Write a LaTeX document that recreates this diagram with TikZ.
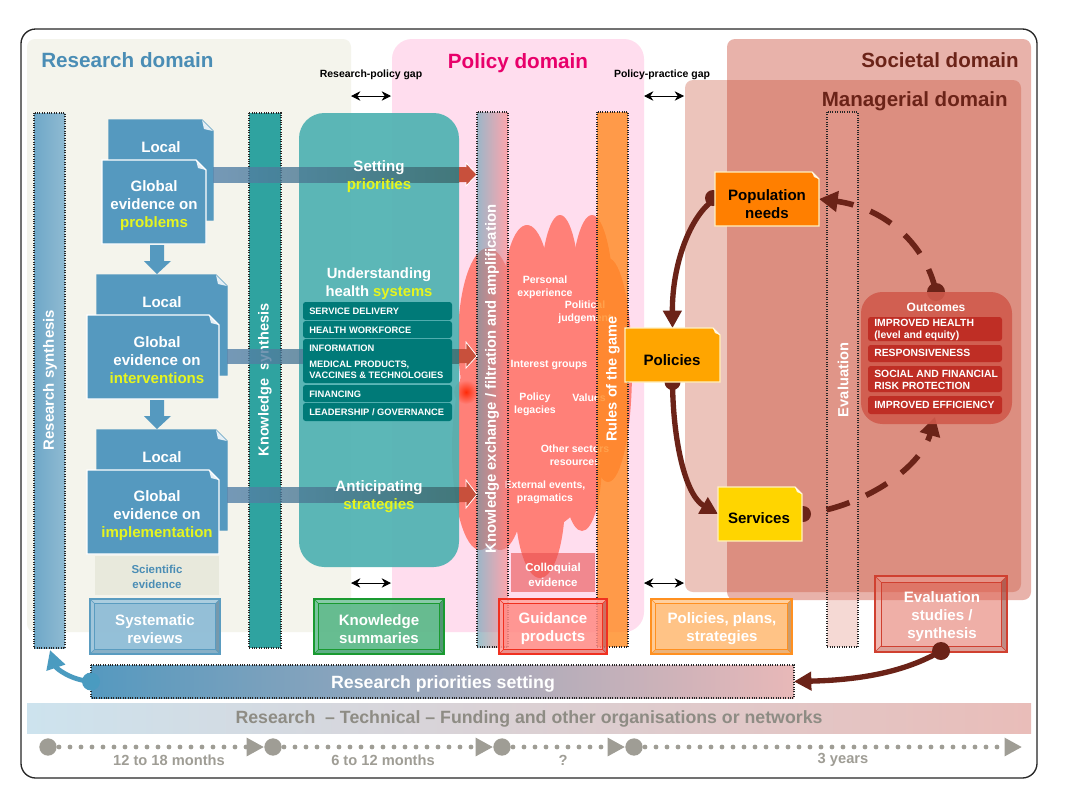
\documentclass[tikz,border=0pt]{standalone}
\usepackage{fontspec}
\setmainfont{Liberation Sans}
\usetikzlibrary{arrows.meta}
\definecolor{docblue}{HTML}{5599BF}
\definecolor{resblue}{HTML}{4A8DB5}
\definecolor{brownc}{HTML}{6B2318}
\definecolor{yell}{HTML}{E6F51E}
\definecolor{tealb}{HTML}{007A78}
\definecolor{greyt}{HTML}{9F9D95}
\definecolor{redb}{HTML}{BF2E25}
\definecolor{HTMLresearch}{HTML}{F4F4EC}
\definecolor{HTMLpolicy}{HTML}{FFDDEE}
\definecolor{HTMLsocietal}{HTML}{E8B2AA}
\definecolor{HTMLmanag}{HTML}{C33E20}
\definecolor{HTMLpolt}{HTML}{E8006A}
\definecolor{HTMLsci}{HTML}{E8E9DC}
\definecolor{HTMLcloud}{HTML}{FF8078}
\definecolor{HTMLdeep}{HTML}{FF2A08}
\definecolor{HTMLcol}{HTML}{E85050}
\definecolor{HTMLrsa}{HTML}{6FA8C8}
\definecolor{HTMLrsb}{HTML}{8FBAD2}
\definecolor{HTMLks}{HTML}{2FA3A0}
\definecolor{HTMLor}{HTML}{FF8A20}
\definecolor{HTMLev}{HTML}{E8A095}
\definecolor{HTMLteal}{HTML}{50B2B2}
\definecolor{HTMLkea}{HTML}{5A9DB0}
\definecolor{HTMLkeb}{HTML}{FF8080}
\definecolor{HTMLbsys}{HTML}{8FBDD6}
\definecolor{HTMLbsysb}{HTML}{5A9CC0}
\definecolor{HTMLbks}{HTML}{5FBA8C}
\definecolor{HTMLbksb}{HTML}{1A9A30}
\definecolor{HTMLbgp}{HTML}{FF8A84}
\definecolor{HTMLbgpb}{HTML}{F03020}
\definecolor{HTMLbpp}{HTML}{FFC080}
\definecolor{HTMLbppb}{HTML}{FF9020}
\definecolor{HTMLbes}{HTML}{E06050}
\definecolor{HTMLbesb}{HTML}{D04030}
\definecolor{HTMLrpb}{HTML}{E8B8B8}
\definecolor{HTMLbanda}{HTML}{CDE3EE}
\definecolor{HTMLbandb}{HTML}{D8D5DF}
\definecolor{HTMLbandc}{HTML}{E9BDB9}
\definecolor{HTMLbandt}{HTML}{8E8C84}
\definecolor{HTMLblueflow}{HTML}{4A9BC0}
\definecolor{HTMLpop}{HTML}{FF7F00}
\definecolor{HTMLpolb}{HTML}{FFA500}
\definecolor{HTMLser}{HTML}{FFD500}
\definecolor{HTMLedge}{HTML}{FFF0C0}
\definecolor{HTMLout}{HTML}{D05A4C}
\definecolor{shafta}{RGB}{85,130,170}
\definecolor{shaftb}{RGB}{60,105,108}
\definecolor{headred}{HTML}{C8503C}
\newcommand{\fsz}[1]{\bfseries\fontsize{#1}{1.2\dimexpr#1pt\relax}\selectfont}
\newcommand{\yy}[1]{\textcolor{yell}{#1}}
\newcommand{\anchorbox}[5]{%
 \pgfmathsetmacro\cxx{(#2+#4)/2}\pgfmathsetmacro\cyy{(#3+#5)/2}%
 \pgfmathsetmacro\www{(#4-#2)*0.75}\pgfmathsetmacro\hhh{(#5-#3)*0.75}%
 \node[inner sep=0pt,outer sep=0pt,minimum width=\www pt,minimum height=\hhh pt] (#1) at (\cxx,\cyy) {};}
% name x1 y1 x2 y2 fill border fold
\newcommand{\docshape}[8]{%
 \anchorbox{#1}{#2}{#3}{#4}{#5}%
 \path[fill=#6,draw=#7,line width=.9pt] (#2,#3) -- ({#4-#8},#3) -- (#4,{#3+#8}) -- (#4,#5) -- (#2,#5) -- cycle;
 \path[fill=white,fill opacity=.85] ({#4-#8},#3) -- ({#4-#8+2},{#3+#8-2}) -- (#4,{#3+#8}) -- cycle;}
% name x1 y1 x2 y2 fill border inset opacity
\newcommand{\bevelbox}[9]{%
 \anchorbox{#1}{#2}{#3}{#4}{#5}%
 \path[fill=#6,fill opacity=#9] (#2,#3) rectangle (#4,#5);
 \fill[white,fill opacity=.22] (#2,#3) -- (#4,#3) -- ({#4-#8},{#3+#8}) -- ({#2+#8},{#3+#8}) -- cycle;
 \fill[white,fill opacity=.12] (#2,#3) -- ({#2+#8},{#3+#8}) -- ({#2+#8},{#5-#8}) -- (#2,#5) -- cycle;
 \fill[black,fill opacity=.2] (#4,#3) -- ({#4-#8},{#3+#8}) -- ({#4-#8},{#5-#8}) -- (#4,#5) -- cycle;
 \fill[black,fill opacity=.08] (#2,#5) -- ({#2+#8},{#5-#8}) -- ({#4-#8},{#5-#8}) -- (#4,#5) -- cycle;
 \draw[#7,line width=.9pt] (#2,#3) rectangle (#4,#5);
 \draw[#7,line width=.5pt] ({#2+#8},{#3+#8}) rectangle ({#4-#8},{#5-#8});
 \draw[#7,line width=.4pt] (#2,#3) -- ({#2+#8},{#3+#8}) (#4,#3) -- ({#4-#8},{#3+#8}) (#2,#5) -- ({#2+#8},{#5-#8}) (#4,#5) -- ({#4-#8},{#5-#8});}
% y1 y2 headtop headbottom xstart
\newcommand{\bigarrow}[5]{%
 \shade[left color=shafta,right color=shaftb,fill opacity=.8] (#5,#1) rectangle (459,#2);
 \fill[headred] (459,#1) -- (466,#1) -- (466,#3) -- (477,{(#1+#2)/2}) -- (466,#4) -- (466,#2) -- (459,#2) -- cycle;
 \draw[white,line width=.6pt] (466,#1) -- (466,#3) -- (477,{(#1+#2)/2}) -- (466,#4) -- (466,#2);}
\newcommand{\dnarrow}[1]{%
 \fill[docblue] (150,#1) -- (164,#1) -- (164,{#1+16}) -- (171,{#1+16}) -- (157,{#1+29}) -- (144,{#1+16}) -- (150,{#1+16}) -- cycle;}
\tikzset{
 dotbar/.style={draw=black!85,densely dotted,line width=.8pt},
 wtext/.style={text=white,align=center,inner sep=0pt},
 blk/.style={text=black,align=center,inner sep=0pt,font=\fsz{11.3}},
 cloudtext/.style={text=white,align=center,inner sep=0pt,font=\fsz{7.9}},
 sysbox/.style={text=white,align=left,anchor=west,inner sep=0pt,font=\fsz{7}},
 outbox/.style={text=white,align=left,anchor=west,inner sep=0pt,font=\fsz{7.8}},
 solidflow/.style={draw=brownc,line width=4pt,-{Triangle[length=13pt,width=13.5pt]}},
 dashflow/.style={draw=brownc,line width=4.2pt,dash pattern=on 18pt off 13.5pt,-{Triangle[length=14pt,width=15pt]}},
 gapflow/.style={{Stealth[length=7pt,width=7pt]}-{Stealth[length=7pt,width=7pt]},line width=.7pt},
 tline/.style={draw=greyt,line width=3.6pt,line cap=round,dash pattern=on 0pt off 8.25pt,-{Triangle[length=13pt,width=13pt]}},
 tdot/.style={circle,fill=greyt,minimum size=13pt,inner sep=0pt},
 tlab/.style={text=greyt,inner sep=0pt,font=\fsz{11}},
}
\begin{document}
\begin{tikzpicture}[x=0.75pt,y=-0.75pt]
\useasboundingbox (0,0) rectangle (1070,800);
% frame
\draw[black!85,line width=1pt,rounded corners=11pt,fill=white] (21,29) rectangle (1037,778);
% domains
\fill[fill=HTMLresearch,rounded corners=6pt] (27,39) rectangle (351,632);
\fill[fill=HTMLpolicy,rounded corners=15pt] (392,39) rectangle (644,632);
\fill[fill=HTMLsocietal,rounded corners=6pt] (727,39) rectangle (1031,600);
\fill[fill=HTMLmanag,fill opacity=.3,rounded corners=6pt] (685,80) rectangle (1021,592);
\node[font=\fsz{15.5},text=resblue,anchor=west,inner sep=0pt] (tres) at (41,60) {Research domain};
\node[font=\fsz{15.5},text=HTMLpolt,inner sep=0pt] (tpol) at (518,63) {Policy domain};
\node[font=\fsz{15.4},text=brownc,anchor=east,inner sep=0pt] (tsoc) at (1019,60) {Societal domain};
\node[font=\fsz{15.4},text=brownc,anchor=east,inner sep=0pt] (tman) at (1008,101) {Managerial domain};
\node[font=\fsz{7.85},inner sep=0pt] (g1) at (371,75) {Research-policy gap};
\node[font=\fsz{7.85},inner sep=0pt] (g2) at (662,75) {Policy-practice gap};
\coordinate (pa) at (351,96); \coordinate (pb) at (391,96);
\coordinate (pc) at (644,96); \coordinate (pd) at (684,96);
\coordinate (pe) at (351,583); \coordinate (pf) at (391,583);
\coordinate (pg) at (644,583); \coordinate (ph) at (684,583);
\draw[gapflow] (pa) -- (pb);
\draw[gapflow] (pc) -- (pd);
\draw[gapflow] (pe) -- (pf);
\draw[gapflow] (pg) -- (ph);
% scientific evidence
\fill[HTMLsci] (95,556) rectangle (219,595);
\node[font=\fsz{8.6},text=resblue,align=center,inner sep=0pt] (sci) at (157,577) {Scientific\\[1pt]evidence};
% cloud
\begin{scope}[fill=HTMLcloud]
\fill (527,300) ellipse [x radius=24,y radius=75];
\fill (560,300) ellipse [x radius=20,y radius=85];
\fill (592,310) ellipse [x radius=22,y radius=95];
\fill (608,370) ellipse [x radius=24,y radius=112];
\fill (488,340) ellipse [x radius=30,y radius=92];
\fill (480,450) ellipse [x radius=28,y radius=100];
\fill (500,480) ellipse [x radius=25,y radius=70];
\fill (540,500) ellipse [x radius=25,y radius=78];
\fill (582,460) ellipse [x radius=20,y radius=71];
\fill (540,390) ellipse [x radius=72,y radius=140];
\end{scope}
\shade[inner color=HTMLdeep,outer color=HTMLcloud] (466,392) circle (12);
\node[cloudtext] (c1) at (545,287) {Personal\\experience};
\node[cloudtext] (c2) at (585,312) {Political\\judgement};
\node[cloudtext] (c3) at (549,365) {Interest groups};
\node[cloudtext] (c4) at (535,404) {Policy\\legacies};
\node[cloudtext] (c5) at (589,398) {Values};
\node[cloudtext] (c6) at (575,455) {Other sectors\\resources};
\node[cloudtext] (c7) at (545,492) {External events,\\pragmatics};
% colloquial
\fill[HTMLcol,fill opacity=.6] (511,553) rectangle (595,592);
\node[font=\fsz{8.6},text=white,align=center,inner sep=0pt] (col) at (553,575) {Colloquial\\[1pt]evidence};
% vertical bars
\shade[left color=HTMLrsa,right color=HTMLrsb] (34,113) rectangle (65,648);
\draw[dotbar] (34,113) rectangle (65,648);
\node[rotate=90,wtext,font=\fsz{11.2}] (rs) at (50,380) {Research synthesis};
\fill[HTMLks] (249,113) rectangle (281,648);
\draw[dotbar] (249,113) rectangle (281,648);
\node[rotate=90,wtext,font=\fsz{10.9}] (ks) at (265,380) {Knowledge\ \ synthesis};
\fill[HTMLor,fill opacity=.8] (597,112) rectangle (628,647);
\draw[dotbar] (597,112) rectangle (628,647);
\node[rotate=90,wtext,font=\fsz{10.9}] (rg) at (613,379) {Rules of the game};
\fill[HTMLev,fill opacity=.4] (827,112) rectangle (858,647);
\draw[dotbar] (827,112) rectangle (858,647);
\node[rotate=90,wtext,font=\fsz{11}] (ev) at (843,380) {Evaluation};
% documents
\docshape{la}{109}{120}{213}{220}{docblue}{docblue}{11}
\docshape{ga}{102}{160}{206}{244}{docblue}{white}{10}
\node[wtext,font=\fsz{11.3}] (lat) at (161,147) {Local};
\node[wtext,font=\fsz{11.3}] (gat) at (154,206) {Global\\evidence on\\\yy{problems}};
\docshape{lb}{97}{275}{227}{375}{docblue}{docblue}{11}
\docshape{gb}{87}{315}{219}{399}{docblue}{white}{10}
\node[wtext,font=\fsz{11.3}] (lbt) at (162,302) {Local};
\node[wtext,font=\fsz{11.3}] (gbt) at (157,360) {Global\\evidence on\\\yy{interventions}};
\docshape{lc}{97}{430}{227}{530}{docblue}{docblue}{11}
\docshape{gc}{87}{470}{219}{554}{docblue}{white}{10}
\node[wtext,font=\fsz{11.3}] (lct) at (162,457) {Local};
\node[wtext,font=\fsz{11.3}] (gct) at (157,516) {Global\\evidence on\\\yy{implementation}};
\dnarrow{245}
\dnarrow{400}
% teal box
\fill[HTMLteal,fill opacity=.93,rounded corners=19pt] (299,113) rectangle (459,567);
% horizontal arrows
\bigarrow{167}{182}{163}{186}{213}
\bigarrow{349}{363}{342}{368}{227}
\bigarrow{487}{502}{480}{508}{227}
% knowledge exchange bar
\shade[left color=HTMLkea,right color=HTMLkeb,fill opacity=.6] (477,112) rectangle (508,647);
\draw[dotbar] (477,112) rectangle (508,647);
\node[rotate=90,wtext,font=\fsz{11.1}] (ke) at (492,379) {Knowledge exchange / filtration and amplification};
% teal content
\node[wtext,font=\fsz{11.3}] (st) at (379,177) {Setting\\\yy{priorities}};
\node[wtext,font=\fsz{11.1}] (ut) at (379,284) {Understanding\\health \yy{systems}};
\node[wtext,font=\fsz{11.3}] (at) at (379,497) {Anticipating\\\yy{strategies}};
\fill[tealb,rounded corners=2pt] (303,302) rectangle (452,320);
\fill[tealb,rounded corners=2pt] (303,321) rectangle (452,338);
\fill[tealb,rounded corners=2pt] (303,339) rectangle (452,383);
\fill[tealb,rounded corners=2pt] (303,385) rectangle (452,402);
\fill[tealb,rounded corners=2pt] (303,403) rectangle (452,421);
\node[sysbox] (s1) at (309,311) {SERVICE DELIVERY};
\node[sysbox] (s2) at (309,330) {HEALTH WORKFORCE};
\node[sysbox] (s3) at (309,348) {INFORMATION};
\node[sysbox] (s4) at (309,370) {MEDICAL PRODUCTS,\\VACCINES \& TECHNOLOGIES};
\node[sysbox] (s5) at (309,394) {FINANCING};
\node[sysbox] (s6) at (309,412) {LEADERSHIP / GOVERNANCE};
% bevel boxes
\bevelbox{sr}{90}{599}{220}{654}{HTMLbsys}{HTMLbsysb}{4.5}{.95}
\node[wtext,font=\fsz{11.3}] (srt) at (155,629) {Systematic\\reviews};
\bevelbox{ksu}{314}{599}{444}{654}{HTMLbks}{HTMLbksb}{4.5}{.95}
\node[wtext,font=\fsz{11.3}] (kst) at (379,629) {Knowledge\\summaries};
\bevelbox{gp}{499}{599}{607}{654}{HTMLbgp}{HTMLbgpb}{4.5}{.85}
\node[wtext,font=\fsz{11.3}] (gpt) at (553,629) {Guidance\\products};
\bevelbox{pp}{651}{599}{792}{654}{HTMLbpp}{HTMLbppb}{4.5}{.95}
\node[wtext,font=\fsz{11.3}] (ppt) at (722,629) {Policies, plans,\\strategies};
\coordinate (evaldot) at (941,651);
\bevelbox{es}{875}{576}{1007}{652}{HTMLbes}{HTMLbesb}{6}{.5}
\node[wtext,font=\fsz{11.3}] (est) at (942,617) {Evaluation\\studies /\\synthesis};
% research priorities
\shade[left color=docblue,right color=HTMLrpb] (91,665) rectangle (794,698);
\draw[dotbar] (91,665) rectangle (794,698);
\anchorbox{rp}{91}{665}{794}{698}
\node[wtext,font=\fsz{13.3}] (rpt) at (443,684) {Research priorities setting};
% band
\shade[left color=HTMLbanda,middle color=HTMLbandb,right color=HTMLbandc] (27,703) rectangle (1031,733);
\node[font=\fsz{13.3},text=HTMLbandt,inner sep=0pt] (band) at (529,719) {Research\ \ – Technical – Funding and other organisations or networks};
% timeline
\node[tdot] (t1) at (48,747) {};
\node[tdot] (t2) at (273,747) {};
\node[tdot] (t3) at (502,747) {};
\node[tdot] (t4) at (634,747) {};
\coordinate (t5) at (1022,747);
\draw[tline] (t1.center) -- (t2.west);
\draw[tline] (t2.center) -- (t3.west);
\draw[tline] (t3.center) -- (t4.west);
\draw[tline] (t4.center) -- (t5);
\node[tlab] (l1) at (169,760) {12 to 18 months};
\node[tlab] (l2) at (383,760) {6 to 12 months};
\node[tlab] (l3) at (563,760) {?};
\node[tlab] (l4) at (843,760) {3 years};
% managerial flow dots + connectors (under boxes)
\anchorbox{pop}{715}{172}{819}{226}
\anchorbox{pol}{625}{328}{720}{382}
\anchorbox{ser}{718}{487}{802}{541}
\anchorbox{out}{861}{292}{1012}{424}
\fill[brownc] (713,198) circle (8);
\fill[brownc] (pol.south) circle (8);
\fill[brownc] (803,514) circle (8);
\fill[brownc] (936,292) circle (9);
\fill[brownc] (evaldot) circle (9);
\draw[solidflow] (pop.west) .. controls (690,215) and (672,265) .. (pol.north);
\draw[solidflow] (pol.south) .. controls (673,440) and (685,495) .. (ser.west);
\draw[dashflow,dash phase=13.5pt] (803,514) .. controls (860,508) and (920,470) .. (935,417);
\draw[dashflow] (936,292) .. controls (925,240) and (880,207) .. (pop.east);
\draw[solidflow] (evaldot) .. controls (905,672) and (860,680) .. (rp.east);
\fill[HTMLblueflow] (rp.west) circle (9);
\draw[draw=HTMLblueflow,line width=3.6pt,-{Triangle[length=14pt,width=14pt]}] (rp.west) .. controls (70,680) and (56,668) .. (50,650);
% boxes
\docshape{popb}{715}{172}{819}{226}{HTMLpop}{HTMLedge}{7}
\node[blk] (popt) at (767,204) {Population\\needs};
\docshape{polb}{625}{328}{720}{382}{HTMLpolb}{HTMLedge}{7}
\node[blk] (polt) at (672,360) {Policies};
\docshape{serb}{718}{487}{802}{541}{HTMLser}{HTMLedge}{7}
\node[blk] (sert) at (759,518) {Services};
% outcomes
\fill[HTMLout,fill opacity=.9,rounded corners=16pt] (861,292) rectangle (1012,424);
\node[wtext,font=\fsz{9}] (ot) at (936,307) {Outcomes};
\fill[redb,rounded corners=2pt] (868,317) rectangle (1002,341);
\fill[redb,rounded corners=2pt] (868,345) rectangle (1002,362);
\fill[redb,rounded corners=2pt] (868,366) rectangle (1002,392);
\fill[redb,rounded corners=2pt] (868,396) rectangle (1002,414);
\node[outbox] (o1) at (874,330) {IMPROVED HEALTH\\(level and equity)};
\node[outbox] (o2) at (874,353) {RESPONSIVENESS};
\node[outbox] (o3) at (874,380) {SOCIAL AND FINANCIAL\\RISK PROTECTION};
\node[outbox] (o4) at (874,405) {IMPROVED EFFICIENCY};
\end{tikzpicture}
\end{document}
